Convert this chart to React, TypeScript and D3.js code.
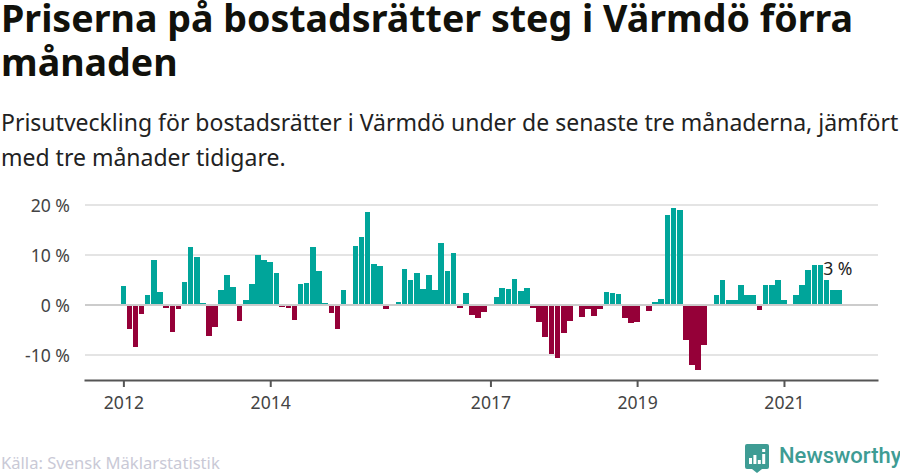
import React, { useEffect, useRef } from 'react';
import * as d3 from 'd3';

// one value per month, starting january 2012 (percent)
const startYear = 2012;
const values: number[] = [
    3.8, -4.8, -8.4, -1.8, 2, 9, 2.6, -0.6, -5.4, -0.8, 4.6, 11.6,
    9.6, 0.4, -6.2, -4.4, 3, 6, 3.6, -3.2, 1, 4.2, 10, 9,
    8.6, 6.4, -0.4, -0.6, -3, 4.2, 4.4, 11.6, 6.8, 0.4, -1.6, -4.8,
    3, 0, 11.8, 13.6, 18.6, 8.2, 7.8, -0.8, 0, 0.6, 7.2, 5,
    6.4, 3.2, 6, 3, 12.4, 6.8, 10.4, -0.6, 2.4, -2, -2.6, -1.4,
    0, 1.6, 3.4, 3.2, 5.2, 2.8, 3.4, -0.6, -3.4, -6.4, -9.8, -10.6,
    -5.6, -3.2, 0, -2.4, -0.8, -2.2, -0.8, 2.6, 2.4, 2.2, -2.6, -3.6,
    -3.4, 0, -1.2, 0.6, 1.2, 18, 19.4, 19, -7, -12, -13, -8,
    0, 2, 5, 1, 1, 4, 2, 2, -1, 4, 4, 5,
    1, 0, 2, 4, 7, 8, 8, 5, 3, 3,
];
const months = values.map((_, i) => new Date(startYear, i, 1));

const yearTicks = [2012, 2014, 2017, 2019, 2021];
const yTicks = [-10, 0, 10, 20];

const titleLines = ['Priserna på bostadsrätter steg i Värmdö förra', 'månaden'];
const subtitleLines = [
    'Prisutveckling för bostadsrätter i Värmdö under de senaste tre månaderna, jämfört',
    'med tre månader tidigare.',
];
const source = 'Källa: Svensk Mäklarstatistik';
const lastLabel = '3 %';

const FONT = '"Noto Sans", sans-serif';

export default function App() {
    const svgRef = useRef<SVGSVGElement>(null);

    useEffect(() => {
        if (!svgRef.current) return;
        const width = 900;
        const height = 474;
        const svg = d3.select(svgRef.current)
            .attr('width', width)
            .attr('height', height)
            .attr('viewBox', `0 0 ${width} ${height}`)
            .style('position', 'absolute')
            .style('left', 0)
            .style('top', 0)
            .style('font-family', FONT);
        svg.selectAll('*').remove();

        const x = d3.scaleTime()
            .domain([new Date(2011, 5, 19), new Date(2022, 3, 14)])
            .range([84, 878]);
        const y = d3.scaleLinear().domain([-10, 20]).range([355, 205]);

        // Title
        titleLines.forEach((t, i) => {
            svg.append('text').attr('x', 1).attr('y', 32 + i * 44)
                .attr('font-size', 37.6).attr('font-weight', 700).attr('fill', '#11110b')
                .text(t);
        });
        subtitleLines.forEach((t, i) => {
            svg.append('text').attr('x', 1).attr('y', 130.5 + i * 35)
                .attr('font-size', 23).attr('fill', '#222')
                .text(t);
        });

        // Grid
        svg.append('g').selectAll('line').data(yTicks).enter().append('line')
            .attr('x1', 85).attr('x2', 878)
            .attr('y1', d => y(d)).attr('y2', d => y(d))
            .attr('stroke', d => d === 0 ? '#cccccc' : '#e4e4e4')
            .attr('stroke-width', 2);

        svg.append('g').selectAll('text').data(yTicks).enter().append('text')
            .attr('x', 70).attr('y', d => y(d) + 7)
            .attr('text-anchor', 'end')
            .attr('font-size', 17.6).attr('fill', '#444')
            .text(d => `${d} %`);

        // Bars (positive ones stand on top of the zero line, negative hang under it)
        const barW = 5.6;
        svg.append('g').attr('shape-rendering', 'crispEdges')
            .selectAll('rect').data(values).enter().append('rect')
            .attr('x', (_, i) => x(months[i]) - barW / 2)
            .attr('width', barW)
            .attr('y', d => d >= 0 ? y(d) : y(0) + 1)
            .attr('height', d => d === 0 ? 0 : d > 0 ? y(0) - 1 - y(d) : y(d) - y(0) - 1)
            .attr('fill', d => d >= 0 ? '#00a59a' : '#950038');

        // Label on the last bar
        const last = months.length - 1;
        svg.append('text')
            .attr('x', x(months[last]) - 1)
            .attr('y', 275)
            .attr('text-anchor', 'middle')
            .attr('font-size', 17.6).attr('fill', '#222')
            .text(lastLabel);

        // X axis
        const axis = svg.append('g').attr('transform', 'translate(0,380)')
            .call(d3.axisBottom(x)
                .tickValues(yearTicks.map(d => new Date(d, 0, 1)))
                .tickFormat(d => String((d as Date).getFullYear()))
                .tickSize(7)
                .tickSizeOuter(0)
                .tickPadding(10));
        axis.select('.domain').attr('stroke', '#555').attr('stroke-width', 2);
        axis.selectAll('line').attr('stroke', '#555').attr('stroke-width', 2);
        axis.selectAll('text').attr('fill', '#444').attr('font-size', 17.6).attr('font-family', FONT);

        // Footer
        svg.append('text').attr('x', 1).attr('y', 469)
            .attr('font-size', 16.6).attr('fill', '#c9c9d6')
            .text(source);

        // Newsworthy logo
        const logo = svg.append('g').attr('transform', 'translate(745,444)');
        logo.append('path')
            .attr('d', 'M2 0H22Q24 0 24 2V23Q24 25 22 25H17L12 29L7 25H2Q0 25 0 23V2Q0 0 2 0Z')
            .attr('fill', '#3e9c94');
        logo.append('g').selectAll('rect').data([6, 9, 4, 10]).enter().append('rect')
            .attr('x', (_, i) => 4 + i * 4.4)
            .attr('y', d => 20 - d)
            .attr('width', 3)
            .attr('height', d => d)
            .attr('fill', '#fff');
        logo.append('rect').attr('x', 17.2).attr('y', 5).attr('width', 3).attr('height', 3).attr('fill', '#fff');
        svg.append('text').attr('x', 779).attr('y', 463)
            .attr('font-family', 'Roboto, sans-serif')
            .attr('font-size', 22).attr('font-weight', 500).attr('fill', '#3e9c94')
            .text('Newsworthy');
    }, []);

    return <svg ref={svgRef} />;
}
